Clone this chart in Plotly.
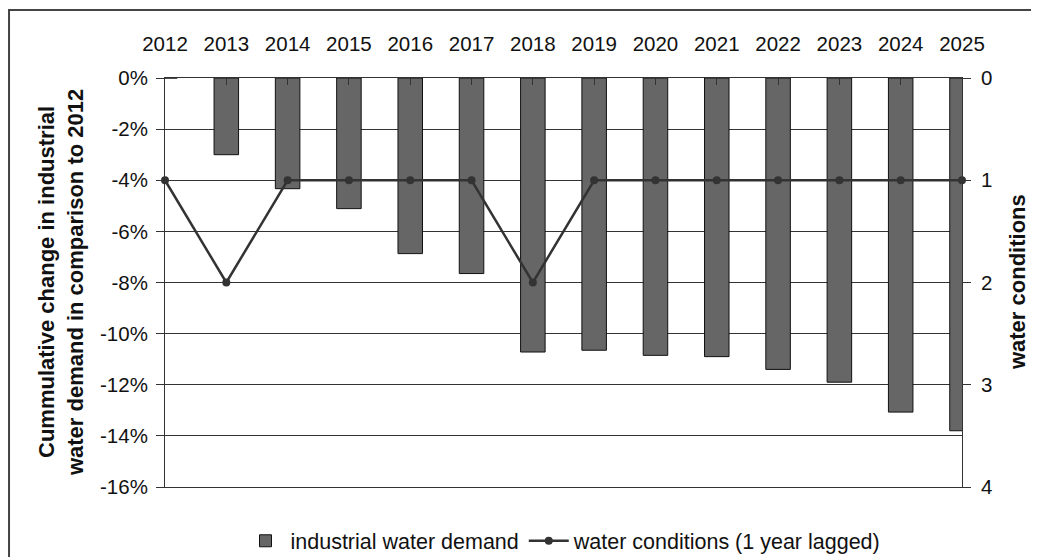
import plotly.graph_objects as go

years = ["2012", "2013", "2014", "2015", "2016", "2017", "2018", "2019",
         "2020", "2021", "2022", "2023", "2024", "2025"]
demand_change = [0.0, -0.030, -0.0433, -0.0511, -0.0687, -0.0765, -0.1072, -0.1065,
                 -0.1085, -0.1090, -0.1140, -0.1190, -0.1307, -0.1380]
water_conditions = [1, 2, 1, 1, 1, 1, 2, 1, 1, 1, 1, 1, 1, 1]

pct_tickvals = [0, -0.02, -0.04, -0.06, -0.08, -0.10, -0.12, -0.14, -0.16]
pct_ticktext = ["0%", "-2%", "-4%", "-6%", "-8%", "-10%", "-12%", "-14%", "-16%"]
cond_tickvals = [0, 1, 2, 3, 4]
cond_ticktext = ["0", "1", "2", "3", "4"]

FONT = "Liberation Sans, Arial, sans-serif"
AX = "#333333"
TICK_SIZE = 20.5

fig = go.Figure()
fig.add_trace(go.Bar(
    x=years, y=demand_change, name="industrial water demand",
    marker=dict(color="#666666", line=dict(color="#111111", width=1)),
    width=0.4,
))
fig.add_trace(go.Scatter(
    x=years, y=water_conditions, name="water conditions (1 year lagged)",
    yaxis="y2", mode="lines+markers", cliponaxis=False,
    line=dict(color="#333333", width=2.5),
    marker=dict(color="#333333", size=8),
))

fig.update_layout(
    width=1031, height=549,
    margin=dict(l=157, r=77, t=70, b=70, autoexpand=False),
    paper_bgcolor="white", plot_bgcolor="white",
    font=dict(family=FONT, size=TICK_SIZE, color="#111111"),
    showlegend=True,
    legend=dict(orientation="h", xref="paper", x=0.5, xanchor="center",
                yref="container", y=0.0295, yanchor="middle",
                font=dict(size=21.5), traceorder="normal", itemwidth=40),
    xaxis=dict(type="category", side="top", range=[0, 13],
               showline=True, linecolor=AX, linewidth=1, mirror=True,
               ticks="inside", ticklen=7, tickcolor=AX,
               ticklabelstandoff=18, showgrid=False, zeroline=False,
               tickfont=dict(size=TICK_SIZE)),
    yaxis=dict(range=[-0.16, 0], tickmode="array",
               tickvals=pct_tickvals, ticktext=pct_ticktext,
               showline=True, linecolor=AX, linewidth=1,
               ticks="outside", ticklen=8, tickcolor=AX,
               ticklabelstandoff=4,
               showgrid=True, gridcolor=AX, gridwidth=1, zeroline=False,
               tickfont=dict(size=TICK_SIZE)),
    yaxis2=dict(range=[4, 0], tickmode="array",
                tickvals=cond_tickvals, ticktext=cond_ticktext,
                overlaying="y", side="right",
                showline=True, linecolor=AX, linewidth=1,
                ticks="outside", ticklen=8, tickcolor=AX,
                ticklabelstandoff=6,
                showgrid=False, zeroline=False, tickfont=dict(size=TICK_SIZE)),
    shapes=[dict(type="rect", xref="paper", yref="paper",
                 x0=-0.1957, x1=1.2, y0=-0.3, y1=1.166,
                 line=dict(color="#444444", width=2), layer="below")],
    annotations=[
        dict(text="<b>Cummulative change in industrial<br>water demand in comparison to 2012</b>",
             xref="paper", yref="paper", x=-0.131, y=0.5, textangle=-90,
             xanchor="center", yanchor="middle",
             showarrow=False, font=dict(size=22, family=FONT), align="center"),
        dict(text="<b>water conditions</b>",
             xref="paper", yref="paper", x=1.0697, y=0.5, textangle=-90,
             xanchor="center", yanchor="middle",
             showarrow=False, font=dict(size=22, family=FONT)),
    ],
)

fig.write_html("out.html")
